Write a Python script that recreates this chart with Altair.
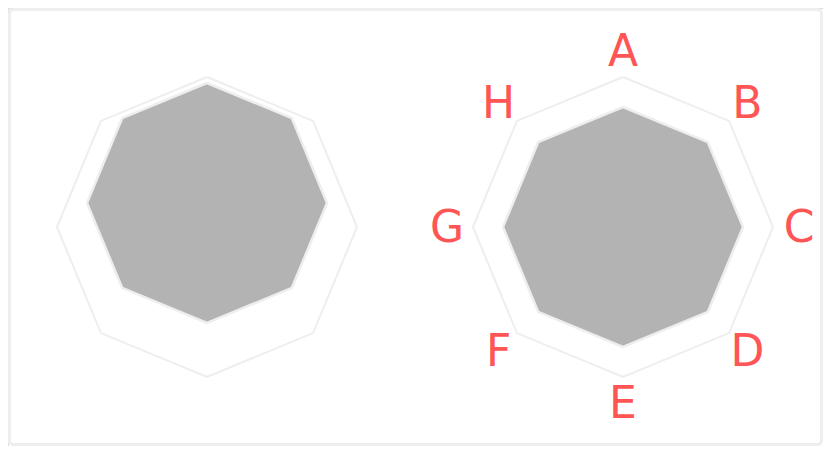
import math
import altair as alt
import pandas as pd

# ---- data ----
categories = ["A", "B", "C", "D", "E", "F", "G", "H"]
max_values = [100, 100, 100, 100, 100, 100, 100, 100]
left_values = [80, 80, 80, 80, 80, 80, 80, 80]
right_values = [80, 80, 80, 80, 80, 80, 80, 80]

# ---- layout (pixels inside the svg) ----
W, H = 815, 438
RADIUS = 150          # pixel radius of the max value
LABEL_R = 176
LEFT_C = (199, 219)
LEFT_SHIFT = (0, -24)  # the left filled shape sits a bit higher
RIGHT_C = (615, 219)


def polygon(values, center, shift=(0, 0), name=""):
    rows = []
    n = len(categories)
    for k in range(n + 1):
        i = k % n
        a = 2 * math.pi * i / n
        r = values[i] / 100 * RADIUS
        rows.append({
            "poly": name,
            "order": k,
            "cat": categories[i],
            "x": center[0] + shift[0] + r * math.sin(a),
            "y": center[1] + shift[1] - r * math.cos(a),
        })
    return rows


outer_df = pd.DataFrame(polygon(max_values, LEFT_C, name="outerL") + polygon(max_values, RIGHT_C, name="outerR"))
inner_df = pd.DataFrame(polygon(left_values, LEFT_C, LEFT_SHIFT, name="innerL") + polygon(right_values, RIGHT_C, name="innerR"))

label_rows = []
for i, c in enumerate(categories):
    a = 2 * math.pi * i / len(categories)
    label_rows.append({"cat": c,
                       "x": RIGHT_C[0] + LABEL_R * math.sin(a),
                       "y": RIGHT_C[1] - LABEL_R * math.cos(a)})
label_df = pd.DataFrame(label_rows)

xs = alt.Scale(domain=[0, W], range=[0, W], nice=False, zero=False)
ys = alt.Scale(domain=[0, H], range=[0, H], nice=False, zero=False)
X = alt.X("x:Q", scale=xs, axis=None)
Y = alt.Y("y:Q", scale=ys, axis=None)

border = alt.Chart(pd.DataFrame({"a": [0]})).mark_rect(
    fill=None, stroke="#eeeeee", strokeWidth=3, cornerRadius=4
).encode(x=alt.value(1.5), x2=alt.value(W - 1.5), y=alt.value(1.5), y2=alt.value(H - 1.5))

outer = alt.Chart(outer_df).mark_line(
    stroke="#eeeeee", strokeWidth=2, strokeJoin="miter"
).encode(x=X, y=Y, detail="poly:N", order="order:Q")

inner = alt.Chart(inner_df).mark_line(
    fill="#b3b3b3", stroke="#eeeeee", strokeWidth=2.5, strokeJoin="miter"
).encode(x=X, y=Y, detail="poly:N", order="order:Q")

labels = alt.Chart(label_df).mark_text(
    font="DejaVu Sans", fontSize=44, color="#ff5555", align="center", baseline="middle", dy=2
).encode(x=X, y=Y, text="cat:N")

chart = alt.layer(border, outer, inner, labels).properties(
    width=W, height=H, padding=0, autosize=alt.AutoSizeParams(type="none")
).configure_view(stroke=None).configure(background="white")

chart.save("out.html", embed_options={"renderer": "svg", "actions": False})
